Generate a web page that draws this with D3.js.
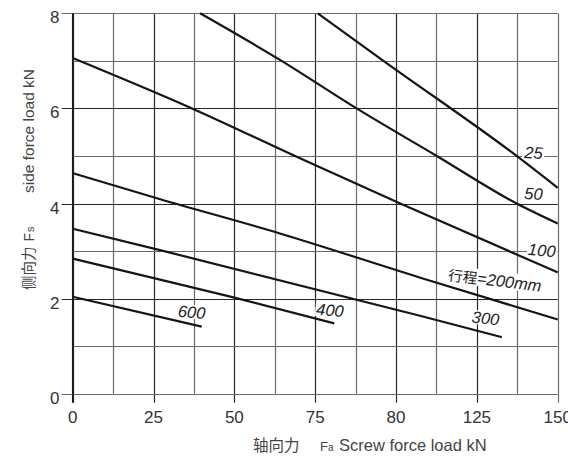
<!DOCTYPE html>
<html>
<head>
<meta charset="utf-8">
<script src="https://cdn.jsdelivr.net/npm/d3@7/dist/d3.min.js"></script>
<style>
    body { margin: 0; background: #ffffff; }
    #chart { width: 568px; height: 456px; }
    text { font-family: "Liberation Sans", Arial, sans-serif; }
    .cjk { font-family: "Noto Sans CJK SC", "Liberation Sans", sans-serif; }
</style>
</head>
<body>
<div id="chart"></div>
<script>
///////////////////////////////////////////////////////////////////////////////////////////////////
// chart values

const x_ticks       = [0, 25, 50, 75, 100, 125, 150];
const x_tick_labels = ["0", "25", "50", "75", "80", "125", "150"];
const y_ticks       = [0, 2, 4, 6, 8];

const stroke_names  = ["25", "50", "100", "200", "300", "400", "600"];

// axial force Fa (kN) / side force Fs (kN) for each stroke
const fa_25  = [75.8, 96.1, 137.3, 150];
const fs_25  = [8.0, 7.0, 5.0, 4.33];
const fa_50  = [39.4, 64.6, 87.8, 112.6, 137.3, 150];
const fs_50  = [8.0, 7.0, 6.0, 5.0, 4.0, 3.58];
const fa_100 = [0, 36.9, 70.3, 101.3, 150];
const fs_100 = [7.06, 6.0, 4.95, 4.0, 2.55];
const fa_200 = [0, 27.1, 64.1, 107.5, 150];
const fs_200 = [4.64, 4.09, 3.37, 2.44, 1.56];
const fa_300 = [0, 27.0, 107.4, 132.7];
const fs_300 = [3.47, 3.02, 1.64, 1.19];
const fa_400 = [0, 27.0, 49.4, 80.9];
const fs_400 = [2.84, 2.40, 2.03, 1.48];
const fa_600 = [0, 39.9];
const fs_600 = [2.04, 1.41];

const series_fa = [fa_25, fa_50, fa_100, fa_200, fa_300, fa_400, fa_600];
const series_fs = [fs_25, fs_50, fs_100, fs_200, fs_300, fs_400, fs_600];

// curve labels
const label_text = ["25", "50", "100", "=200mm", "300", "400", "600"];

///////////////////////////////////////////////////////////////////////////////////////////////////

function draw_chart(element_id) {

    let element_check = document.getElementById(element_id);
    if (!element_check) { return; }

    var svg_width  = 568;
    var svg_height = 456;

    var svg = d3.select('#' + element_id)
      .append("svg")
        .attr("width",  svg_width)
        .attr("height", svg_height);

    var x = d3.scaleLinear()
        .domain([0, 150])
        .range([72.7, 557.7]);

    var y = d3.scaleLinear()
        .domain([0, 8])
        .range([393.7, 13.3]);

    // grid, 12.5 kN by 1 kN
    var grid = svg.append("g").attr("class", "grid");

    grid.selectAll(".vline")
        .data(d3.range(0, 150.1, 12.5))
        .join("line")
            .attr("x1", d => Math.round(x(d)) + 0.5)
            .attr("x2", d => Math.round(x(d)) + 0.5)
            .attr("y1", y(8))
            .attr("y2", d => (d % 25 === 0) ? y(0) + 9 : y(0))
            .attr("stroke", (d, i) => (i % 2 === 1 || d === 150) ? "#6a6a6a" : "#262626")
            .attr("stroke-width", 1.2);

    grid.selectAll(".hline")
        .data(d3.range(0, 8.1, 1))
        .join("line")
            .attr("x1", d => (d % 2 === 0) ? x(0) - 11 : x(0))
            .attr("x2", x(150))
            .attr("y1", d => Math.round(y(d)) + 0.5)
            .attr("y2", d => Math.round(y(d)) + 0.5)
            .attr("stroke", d => (d % 2 === 0 && d !== 0 && d !== 8) ? "#262626" : "#6a6a6a")
            .attr("stroke-width", 1.2);

    // left axis line
    svg.append("line")
        .attr("x1", x(0)).attr("x2", x(0))
        .attr("y1", y(8)).attr("y2", y(0) + 9)
        .attr("stroke", "#1a1a1a")
        .attr("stroke-width", 1.5);

    // tick labels
    svg.append("g")
        .selectAll("text")
        .data(x_ticks)
        .join("text")
            .attr("x", d => x(d))
            .attr("y", 422.5)
            .attr("text-anchor", "middle")
            .style("font-size", "17px")
            .style("fill", "#333")
            .text((d, i) => x_tick_labels[i]);

    svg.append("g")
        .selectAll("text")
        .data(y_ticks)
        .join("text")
            .attr("x", 59.5)
            .attr("y", d => y(d) + 10)
            .attr("text-anchor", "end")
            .style("font-size", "17px")
            .style("fill", "#333")
            .text(d => d);

    // axis titles
    svg.append("text")
        .attr("class", "cjk")
        .attr("x", 253)
        .attr("y", 451)
        .style("font-size", "15.5px")
        .style("fill", "#444")
        .text("轴向力");
    svg.append("text")
        .attr("x", 320)
        .attr("y", 451)
        .style("font-size", "13px")
        .style("fill", "#444")
        .text("F")
      .append("tspan")
        .style("font-size", "10px")
        .text("a");
    svg.append("text")
        .attr("x", 339)
        .attr("y", 451)
        .style("font-size", "16.5px")
        .style("fill", "#444")
        .text("Screw force load kN");

    svg.append("text")
        .attr("class", "cjk")
        .attr("transform", "translate(34,290) rotate(-90)")
        .style("font-size", "14.5px")
        .style("fill", "#444")
        .text("侧向力");
    svg.append("text")
        .attr("transform", "translate(34,241.5) rotate(-90)")
        .style("font-size", "14px")
        .style("fill", "#444")
        .text("F")
      .append("tspan")
        .attr("dx", 1)
        .style("font-size", "11px")
        .text("s");
    svg.append("text")
        .attr("transform", "translate(33.5,193) rotate(-90)")
        .style("font-size", "15.5px")
        .style("fill", "#444")
        .text("side force load kN");

    // curve labels sit on white boxes that break the grid
    var label_pos_x = [142.5, 142.5, 145.1, 130.6, 127.7, 79.6, 36.8];
    var label_pos_y = [5.07, 4.21, 3.02, 2.39, 1.59, 1.76, 1.72];
    var label_rot   = [3, 3, 5, 7, 6, 5, 5];

    var labels = svg.append("g").attr("class", "curve_labels");
    label_text.forEach(function(t, i) {
        let lg = labels.append("g")
            .attr("transform", "translate(" + x(label_pos_x[i]) + "," + y(label_pos_y[i]) + ") rotate(" + label_rot[i] + ")");
        let bg = lg.append("rect").style("fill", "#ffffff");
        let tx = lg.append("text")
            .attr("text-anchor", "middle")
            .attr("dy", "0.36em")
            .style("font-size", "16.5px")
            .style("font-style", "italic")
            .style("fill", "#222");
        if (stroke_names[i] === "200") {
            tx.append("tspan")
                .attr("class", "cjk")
                .style("font-size", "14.5px")
                .style("font-style", "normal")
                .text("行程");
            tx.append("tspan").text(t);
        } else {
            tx.text(t);
        }
        let bb = tx.node().getBBox();
        bg.attr("x", bb.x - 1)
          .attr("y", bb.y + 2)
          .attr("width", bb.width + 2)
          .attr("height", bb.height - 4);
    });

    // the stroke curves
    var line = d3.line()
        .x(d => x(d[0]))
        .y(d => y(d[1]))
        .curve(d3.curveMonotoneX);

    svg.append("g")
        .selectAll("path")
        .data(series_fa.map((fa, i) => fa.map((v, j) => [v, series_fs[i][j]])))
        .join("path")
            .attr("d", line)
            .attr("fill", "none")
            .attr("stroke", "#151515")
            .attr("stroke-width", 2.2);

    labels.raise();

} // end function

///////////////////////////////////////////////////////////////////////////////////////////////////

draw_chart("chart");
</script>
</body>
</html>
